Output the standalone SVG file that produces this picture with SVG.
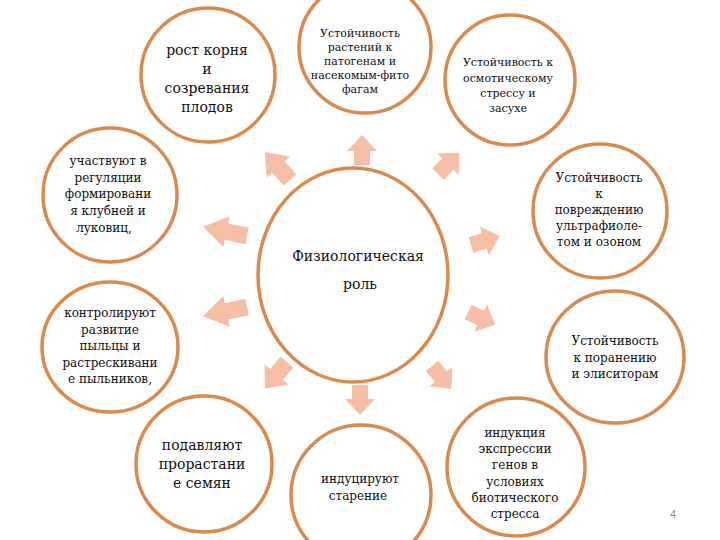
<svg xmlns="http://www.w3.org/2000/svg" width="720" height="540" viewBox="0 0 720 540">
<style>
.c{fill:#fff;stroke:#D98B4F;stroke-width:3.5}
text{font-family:'DejaVu Serif','Liberation Serif',serif;fill:#111;text-anchor:middle}
.a{fill:#F6BEA5}
.s11{font-size:11px}.s12{font-size:12px}.s14{font-size:14px}
</style>
<defs>
<polygon id="arr" points="0,-8 14,-8 14,-15 30,0 14,15 14,8 0,8"/>
</defs>
<rect width="720" height="540" fill="#fff"/>
<g id="connectors" class="a">
<use href="#arr" transform="translate(362,165) rotate(-90)"/>
<use href="#arr" transform="translate(438,174) rotate(-45)"/>
<use href="#arr" transform="translate(471,245) rotate(-17)"/>
<use href="#arr" transform="translate(468,312) rotate(25)"/>
<use href="#arr" transform="translate(432,366) rotate(50)"/>
<use href="#arr" transform="translate(360,385) rotate(90)"/>
<use href="#arr" transform="translate(287,362) rotate(130) scale(1.15,1.05)"/>
<use href="#arr" transform="translate(247,307) rotate(168) scale(1.5,1.05)"/>
<use href="#arr" transform="translate(247,236) rotate(-168) scale(1.5,1.05)"/>
<use href="#arr" transform="translate(290,180) rotate(-132) scale(1.25,1.05)"/>
</g>
<g id="center">
<ellipse class="c" cx="353" cy="275" rx="95" ry="107"/>
<text class="s14" x="358" y="261">Физиологическая</text>
<text class="s14" x="360" y="289">роль</text>
</g>
<g id="n1">
<circle class="c" cx="208" cy="75" r="67"/>
<text class="s14"><tspan x="207" y="55">рост корня</tspan><tspan x="207" y="74">и</tspan><tspan x="207" y="93">созревания</tspan><tspan x="207" y="112">плодов</tspan></text>
</g>
<g id="n2">
<circle class="c" cx="365" cy="47" r="66"/>
<text class="s11"><tspan x="360" y="37">Устойчивость</tspan><tspan x="360" y="51">растений к</tspan><tspan x="360" y="65">патогенам и</tspan><tspan x="360" y="79">насекомым-фито</tspan><tspan x="360" y="93">фагам</tspan></text>
</g>
<g id="n3">
<circle class="c" cx="510" cy="80" r="65"/>
<text class="s11"><tspan x="508" y="66">Устойчивость к</tspan><tspan x="508" y="82">осмотическому</tspan><tspan x="508" y="97">стрессу и</tspan><tspan x="508" y="112">засухе</tspan></text>
</g>
<g id="n4">
<circle class="c" cx="600" cy="211" r="67"/>
<text class="s12"><tspan x="599" y="182">Устойчивость</tspan><tspan x="599" y="198">к</tspan><tspan x="599" y="214">повреждению</tspan><tspan x="599" y="230">ультрафиоле-</tspan><tspan x="599" y="246">том и озоном</tspan></text>
</g>
<g id="n5">
<ellipse class="c" cx="615" cy="357" rx="69" ry="66"/>
<text class="s12"><tspan x="615" y="345">Устойчивость</tspan><tspan x="615" y="362">к поранению</tspan><tspan x="615" y="378">и элиситорам</tspan></text>
</g>
<g id="n6">
<circle class="c" cx="516" cy="467" r="69"/>
<text class="s12"><tspan x="515" y="437">индукция</tspan><tspan x="515" y="453">экспрессии</tspan><tspan x="515" y="469">генов в</tspan><tspan x="515" y="486">условиях</tspan><tspan x="515" y="502">биотического</tspan><tspan x="515" y="518">стресса</tspan></text>
</g>
<g id="n7">
<circle class="c" cx="361" cy="495" r="70"/>
<text class="s12"><tspan x="360" y="483">индуцируют</tspan><tspan x="358" y="500">старение</tspan></text>
</g>
<g id="n8">
<circle class="c" cx="204" cy="464" r="68"/>
<text class="s14"><tspan x="202" y="450">подавляют</tspan><tspan x="202" y="469">прорастани</tspan><tspan x="202" y="488">е семян</tspan></text>
</g>
<g id="n9">
<ellipse class="c" cx="110" cy="347" rx="68" ry="65"/>
<text class="s12"><tspan x="110" y="317">контролируют</tspan><tspan x="110" y="334">развитие</tspan><tspan x="110" y="350">пыльцы и</tspan><tspan x="110" y="367">растрескивани</tspan><tspan x="110" y="383">е пыльников,</tspan></text>
</g>
<g id="n10">
<circle class="c" cx="110" cy="195" r="67"/>
<text class="s12"><tspan x="108" y="165">участвуют в</tspan><tspan x="108" y="182">регуляции</tspan><tspan x="108" y="198">формировани</tspan><tspan x="108" y="215">я клубней и</tspan><tspan x="104" y="232">луковиц,</tspan></text>
</g>
<text x="673" y="518" style="font-family:'Liberation Sans',sans-serif;font-size:11px;fill:#888;text-anchor:middle">4</text>
</svg>
